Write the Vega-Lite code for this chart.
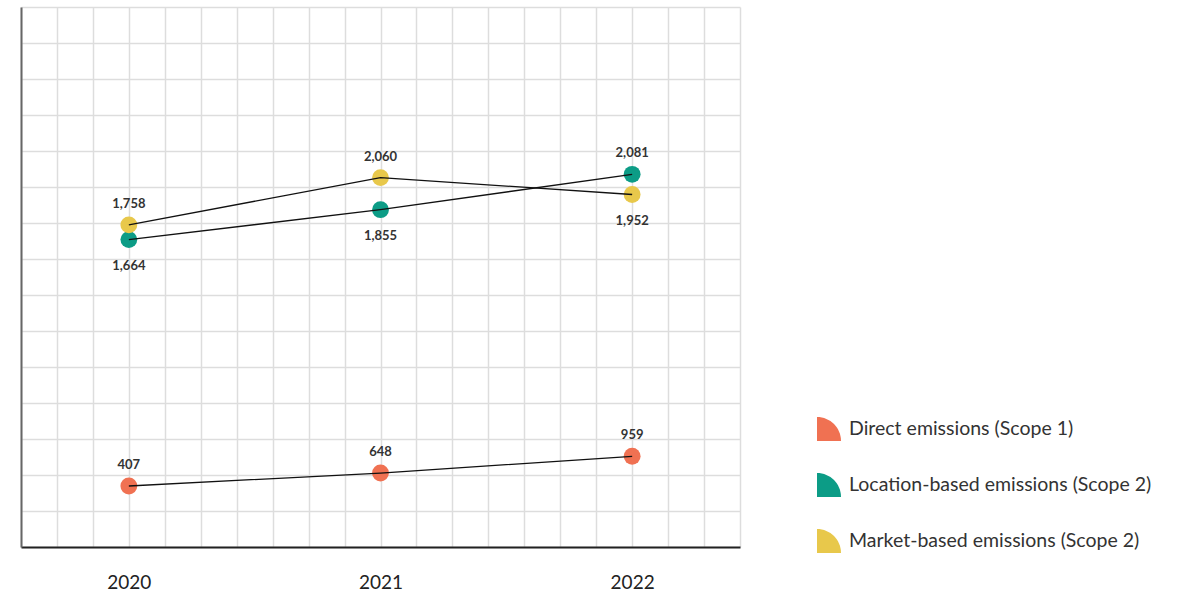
{
  "$schema": "https://vega.github.io/schema/vega-lite/v6.json",
  "width": 719,
  "height": 540,
  "autosize": "none",
  "padding": {"left": 21, "top": 7, "right": 445, "bottom": 51},
  "background": "white",
  "config": {"view": {"stroke": null}, "font": "Lato"},
  "data": {
    "values": [
      {"year": 2020, "series": "Direct emissions (Scope 1)", "value": 407},
      {"year": 2021, "series": "Direct emissions (Scope 1)", "value": 648},
      {"year": 2022, "series": "Direct emissions (Scope 1)", "value": 959},
      {"year": 2020, "series": "Location-based emissions (Scope 2)", "value": 1664},
      {"year": 2021, "series": "Location-based emissions (Scope 2)", "value": 1855},
      {"year": 2022, "series": "Location-based emissions (Scope 2)", "value": 2081},
      {"year": 2020, "series": "Market-based emissions (Scope 2)", "value": 1758},
      {"year": 2021, "series": "Market-based emissions (Scope 2)", "value": 2060},
      {"year": 2022, "series": "Market-based emissions (Scope 2)", "value": 1952}
    ]
  },
  "encoding": {
    "x": {
      "field": "year",
      "type": "quantitative",
      "scale": {"domain": [2019.5714286, 2022.4285714], "nice": false, "zero": false},
      "axis": {
        "values": [2019.5714286, 2019.7142857, 2019.8571429, 2020, 2020.1428571, 2020.2857143, 2020.4285714, 2020.5714286, 2020.7142857, 2020.8571429, 2021, 2021.1428571, 2021.2857143, 2021.4285714, 2021.5714286, 2021.7142857, 2021.8571429, 2022, 2022.1428571, 2022.2857143, 2022.4285714],
        "labelExpr": "datum.value % 1 === 0 ? toString(datum.value) : ''",
        "title": null,
        "grid": true,
        "gridColor": "#dddddd",
        "gridWidth": 1.5,
        "ticks": false,
        "domainColor": "#222222",
        "domainWidth": 2,
        "labelFont": "Lato",
        "labelFontSize": 19,
        "labelColor": "#222222",
        "labelPadding": 26,
        "labelOverlap": false,
        "labelFlush": false
      }
    }
  },
  "layer": [
    {
      "transform": [{"filter": "datum.series === 'Direct emissions (Scope 1)'"}],
      "encoding": {
        "y": {"field": "value", "type": "quantitative", "scale": {"domain": [-726, 9304], "nice": false, "zero": false}, "axis": null}
      },
      "layer": [
        {
          "mark": {"type": "point", "filled": true, "size": 283, "opacity": 1},
          "encoding": {
            "color": {
              "field": "series",
              "type": "nominal",
              "scale": {
                "domain": ["Direct emissions (Scope 1)", "Location-based emissions (Scope 2)", "Market-based emissions (Scope 2)"],
                "range": ["#F07152", "#0C9C86", "#E8C84B"]
              },
              "legend": {
                "title": null, "orient": "none", "direction": "vertical", "legendX": 796, "legendY": 410,
                "symbolType": "M-1,-1A2,2 0 0 1 1,1L-1,1Z", "symbolSize": 576, "symbolStrokeWidth": 0, "symbolOpacity": 1,
                "labelFont": "Lato", "labelFontSize": 19.5, "labelColor": "#333333", "labelOffset": 8, "rowPadding": 32, "padding": 0, "labelLimit": 400
              }
            }
          }
        },
        {"mark": {"type": "line", "color": "#111111", "strokeWidth": 1.3}, "encoding": {}},
        {
          "mark": {"type": "text", "dy": -21, "font": "Lato", "fontWeight": "bold", "fontSize": 13, "color": "#333333"},
          "encoding": {"text": {"field": "value", "type": "quantitative", "format": ",d"}}
        }
      ]
    },
    {
      "transform": [{"filter": "datum.series !== 'Direct emissions (Scope 1)'"}],
      "encoding": {
        "y": {
          "field": "value", "type": "quantitative",
          "scale": {"domain": [-300, 3150], "nice": false, "zero": false},
          "axis": {
            "orient": "left", "title": null, "labels": false, "ticks": false,
            "values": [-300, -70, 160, 390, 620, 850, 1080, 1310, 1540, 1770, 2000, 2230, 2460, 2690, 2920, 3150],
            "grid": true, "gridColor": "#dddddd", "gridWidth": 1.5,
            "domainColor": "#666666", "domainWidth": 2
          }
        }
      },
      "layer": [
        {
          "mark": {"type": "point", "filled": true, "size": 283, "opacity": 1},
          "encoding": {
            "color": {
              "field": "series",
              "type": "nominal",
              "scale": {
                "domain": ["Direct emissions (Scope 1)", "Location-based emissions (Scope 2)", "Market-based emissions (Scope 2)"],
                "range": ["#F07152", "#0C9C86", "#E8C84B"]
              },
              "legend": {
                "title": null, "orient": "none", "direction": "vertical", "legendX": 796, "legendY": 410,
                "symbolType": "M-1,-1A2,2 0 0 1 1,1L-1,1Z", "symbolSize": 576, "symbolStrokeWidth": 0, "symbolOpacity": 1,
                "labelFont": "Lato", "labelFontSize": 19.5, "labelColor": "#333333", "labelOffset": 8, "rowPadding": 32, "padding": 0, "labelLimit": 400
              }
            }
          }
        },
        {"mark": {"type": "line", "color": "#111111", "strokeWidth": 1.3}, "encoding": {"detail": {"field": "series"}}},
        {
          "transform": [{"filter": "(datum.series === 'Market-based emissions (Scope 2)' && datum.year < 2022) || (datum.series === 'Location-based emissions (Scope 2)' && datum.year === 2022)"}],
          "mark": {"type": "text", "dy": -21, "font": "Lato", "fontWeight": "bold", "fontSize": 13, "color": "#333333"},
          "encoding": {"text": {"field": "value", "type": "quantitative", "format": ",d"}}
        },
        {
          "transform": [{"filter": "!((datum.series === 'Market-based emissions (Scope 2)' && datum.year < 2022) || (datum.series === 'Location-based emissions (Scope 2)' && datum.year === 2022))"}],
          "mark": {"type": "text", "dy": 26, "font": "Lato", "fontWeight": "bold", "fontSize": 13, "color": "#333333"},
          "encoding": {"text": {"field": "value", "type": "quantitative", "format": ",d"}}
        }
      ]
    }
  ],
  "resolve": {"scale": {"y": "independent"}, "axis": {"y": "independent"}}
}
